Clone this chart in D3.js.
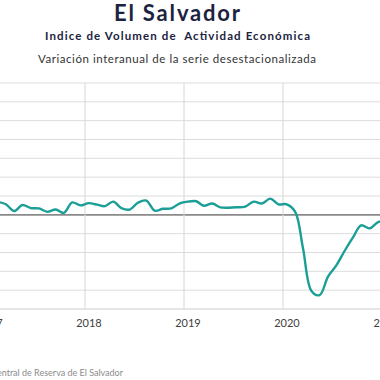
<!DOCTYPE html>
<html>
<head>
<meta charset="utf-8">
<script src="https://cdn.jsdelivr.net/npm/d3@7"></script>
<style>
  body { margin: 0; background: #fff; }
  svg { display: block; font-family: "Lato", "DejaVu Sans", sans-serif; }
</style>
</head>
<body>
<svg id="chart" width="380" height="380"></svg>
<script>
// monthly data, Feb 2017 .. Feb 2021 (yoy % change, seasonally adjusted)
var startYear = 2017, startMonth = 1;
var values = [3.4, 2.8, 1.0, 2.6, 1.8, 1.7, 0.8, 1.4, 0.5, 3.3, 2.5,
              3.1, 2.7, 2.3, 3.5, 1.8, 1.4, 3.2, 3.8, 1.1, 1.6, 1.7, 3.0,
              3.5, 3.6, 2.4, 3.0, 2.0, 1.9, 2.0, 2.2, 3.5, 3.0, 4.3, 2.8,
              2.8, 0.8, -9.0, -20.2, -21.3, -16.4, -13.5, -9.6, -6.0, -2.8, -3.6, -2.0,
              -1.5];
var yearTicks = [2017, 2018, 2019, 2020, 2021];
var yTicks = [-25, -20, -15, -10, -5, 0, 5, 10, 15, 20, 25, 30, 35];

var data = values.map(function (v, i) {
    return { date: new Date(startYear, startMonth + i, 15), value: v };
});

var svg = d3.select("#chart");

// titles (stretched to the width of the original's wide font)
svg.append("text")
    .attr("x", 114).attr("y", 21)
    .attr("textLength", 126).attr("lengthAdjust", "spacing")
    .style("font-size", "22px").style("font-weight", "bold")
    .style("fill", "#1c2340")
    .text("El Salvador");

svg.append("text")
    .attr("x", 45).attr("y", 40)
    .attr("textLength", 265).attr("lengthAdjust", "spacing")
    .style("font-size", "11.5px").style("font-weight", "bold")
    .style("fill", "#1c2340")
    .attr("xml:space", "preserve")
    .text("Indice de Volumen de  Actividad Económica");

svg.append("text")
    .attr("x", 38).attr("y", 63)
    .attr("textLength", 278).attr("lengthAdjust", "spacing")
    .style("font-size", "11.5px")
    .style("fill", "#333")
    .text("Variación interanual de la serie desestacionalizada");

// scales (plot runs past both edges of the picture)
var x = d3.scaleTime()
    .domain([new Date(2018, 0, 1), new Date(2020, 0, 1)])
    .range([85, 283]);

var y = d3.scaleLinear()
    .domain([-25, 35])
    .range([309, 83]);

var g = svg.append("g");

// horizontal grid
g.selectAll(".hgrid")
    .data(yTicks)
    .enter()
    .append("line")
    .attr("x1", -10).attr("x2", 390)
    .attr("y1", d => y(d)).attr("y2", d => y(d))
    .style("stroke", d => d === 0 ? "#8a8a8a" : "#dcdcdc")
    .style("stroke-width", d => (d === 0 || d === -25) ? 1.6 : 1);

// vertical grid
g.selectAll(".vgrid")
    .data(yearTicks)
    .enter()
    .append("line")
    .attr("x1", d => x(new Date(d, 0, 1))).attr("x2", d => x(new Date(d, 0, 1)))
    .attr("y1", y(35)).attr("y2", y(-25))
    .style("stroke", "#d6d6d6")
    .style("stroke-width", 1);

// year labels
g.selectAll(".year")
    .data(yearTicks)
    .enter()
    .append("text")
    .attr("x", d => x(new Date(d, 0, 1)) + 4)
    .attr("y", 327)
    .attr("text-anchor", "middle")
    .style("font-size", "11px")
    .style("fill", "#404040")
    .text(d => d);

// the series
var line = d3.line()
    .x(d => x(d.date))
    .y(d => y(d.value))
    .curve(d3.curveCatmullRom);

g.append("path")
    .datum(data)
    .attr("d", line)
    .style("fill", "none")
    .style("stroke", "#1a9e96")
    .style("stroke-width", 2.4);

// source
svg.append("text")
    .attr("x", 123).attr("y", 376)
    .attr("text-anchor", "end")
    .style("font-size", "9px")
    .style("fill", "#8c8c8c")
    .text("Fuente: Banco Central de Reserva de El Salvador");
</script>
</body>
</html>
